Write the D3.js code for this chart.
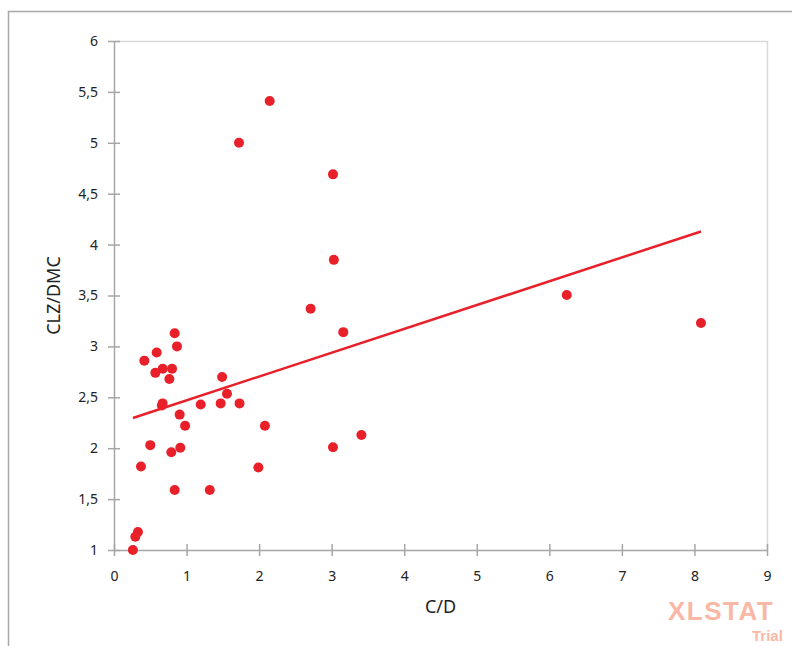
<!DOCTYPE html>
<html>
<head>
<meta charset="utf-8">
<script src="https://cdn.jsdelivr.net/npm/d3@7/dist/d3.min.js"></script>
<style>
  html, body { margin: 0; padding: 0; background: #fff; }
  svg { display: block; }
</style>
</head>
<body>
<svg id="chart" width="792" height="646"></svg>
<script>
// ---- Data ----
const cdValues = [
  0.836, 0.868, 0.588, 0.418, 0.671, 0.800, 0.570, 0.763, 1.490, 1.557,
  0.670, 0.660, 1.195, 1.470, 1.730, 0.905, 0.980, 2.080, 0.500, 0.914,
  0.790, 0.372, 1.990, 0.836, 1.320, 0.330, 0.294, 0.260, 2.146, 1.723,
  3.018, 3.030, 2.710, 3.160, 3.018, 3.410, 6.240, 8.090
];
const clzDmcValues = [
  3.13, 3.00, 2.94, 2.86, 2.78, 2.78, 2.74, 2.68, 2.70, 2.535,
  2.44, 2.42, 2.43, 2.44, 2.44, 2.33, 2.22, 2.22, 2.03, 2.005,
  1.96, 1.82, 1.81, 1.59, 1.59, 1.177, 1.13, 1.00, 5.41, 5.00,
  4.69, 3.85, 3.37, 3.14, 2.01, 2.13, 3.505, 3.23
];
const trendIntercept = 2.236;
const trendSlope = 0.234;
const trendXRange = [0.26, 8.09];
const xTicks = [0, 1, 2, 3, 4, 5, 6, 7, 8, 9];
const yTicks = [1, 1.5, 2, 2.5, 3, 3.5, 4, 4.5, 5, 5.5, 6];
const xTitle = "C/D";
const yTitle = "CLZ/DMC";

(function () {
  // ---- Layout ----
  const svg = d3.select("#chart");
  const pL = 114, pR = 767, pT = 41, pB = 550;
  const font = "'Noto Sans', 'Open Sans', sans-serif";

  const x = d3.scaleLinear().domain([0, 9]).range([pL, pR]);
  const y = d3.scaleLinear().domain([1, 6]).range([pB, pT]);

  // outer frame
  svg.append("path")
    .attr("d", `M8.5,646 L8.5,11.5 L792,11.5`)
    .attr("fill", "none").attr("stroke", "#a8a8a8").attr("stroke-width", 1.5);

  // plot-area top/right border
  svg.append("path")
    .attr("d", `M${pL},${pT + 0.5} L${pR + 0.5},${pT + 0.5} L${pR + 0.5},${pB}`)
    .attr("fill", "none").attr("stroke", "#d9d9d9").attr("stroke-width", 1.5);

  // axes
  const fmt = d => String(d).replace(".", ",");
  const xAxis = d3.axisBottom(x).tickValues(xTicks).tickFormat(fmt).tickSizeInner(6).tickSizeOuter(0).tickPadding(14);
  const yAxis = d3.axisLeft(y).tickValues(yTicks).tickFormat(fmt).tickSizeInner(6).tickSizeOuter(0).tickPadding(10);

  const gx = svg.append("g").attr("transform", `translate(0,${pB})`).call(xAxis);
  const gy = svg.append("g").attr("transform", `translate(${pL},0)`).call(yAxis);

  [gx, gy].forEach(g => {
    g.select(".domain").attr("stroke", "#a6a6a6").attr("stroke-width", 1.5);
    g.selectAll(".tick line").attr("stroke", "#a6a6a6").attr("stroke-width", 1.5);
    g.selectAll(".tick text").attr("fill", "#222").style("font-family", font).style("font-size", "14px");
  });
  // crossing ticks
  gx.selectAll(".tick line").attr("y1", -6).attr("y2", 6);
  gy.selectAll(".tick line").attr("x1", -6).attr("x2", 6);
  gx.selectAll(".tick text").attr("y", 21);

  // axis titles
  svg.append("text")
    .attr("x", (pL + pR) / 2).attr("y", 613)
    .attr("text-anchor", "middle")
    .style("font-family", font).style("font-size", "18px").attr("fill", "#222")
    .text(xTitle);
  svg.append("text")
    .attr("transform", `translate(60,${(pT + pB) / 2}) rotate(-90)`)
    .attr("text-anchor", "middle")
    .style("font-family", font).style("font-size", "18px").attr("fill", "#222")
    .text(yTitle);

  // points
  const pts = cdValues.map((v, i) => ({ x: v, y: clzDmcValues[i] }));
  svg.append("g").selectAll("circle").data(pts).join("circle")
    .attr("cx", d => x(d.x)).attr("cy", d => y(d.y))
    .attr("r", 5).attr("fill", "#e8202a");

  // trend line
  svg.append("line")
    .attr("x1", x(trendXRange[0])).attr("y1", y(trendIntercept + trendSlope * trendXRange[0]))
    .attr("x2", x(trendXRange[1])).attr("y2", y(trendIntercept + trendSlope * trendXRange[1]))
    .attr("stroke", "#e8202a").attr("stroke-width", 2.5);

  // watermark
  svg.append("text")
    .attr("x", 668).attr("y", 620)
    .style("font-family", "'Liberation Sans', Arial, sans-serif").style("font-weight", "bold").style("font-size", "26px")
    .style("letter-spacing", "1.5px")
    .attr("fill", "#f9b8a6")
    .text("XLSTAT");
  svg.append("text")
    .attr("x", 752).attr("y", 641)
    .style("font-family", "'Liberation Sans', Arial, sans-serif").style("font-weight", "bold").style("font-size", "15px")
    .attr("fill", "#f9b8a6")
    .text("Trial");
})();
</script>
</body>
</html>
